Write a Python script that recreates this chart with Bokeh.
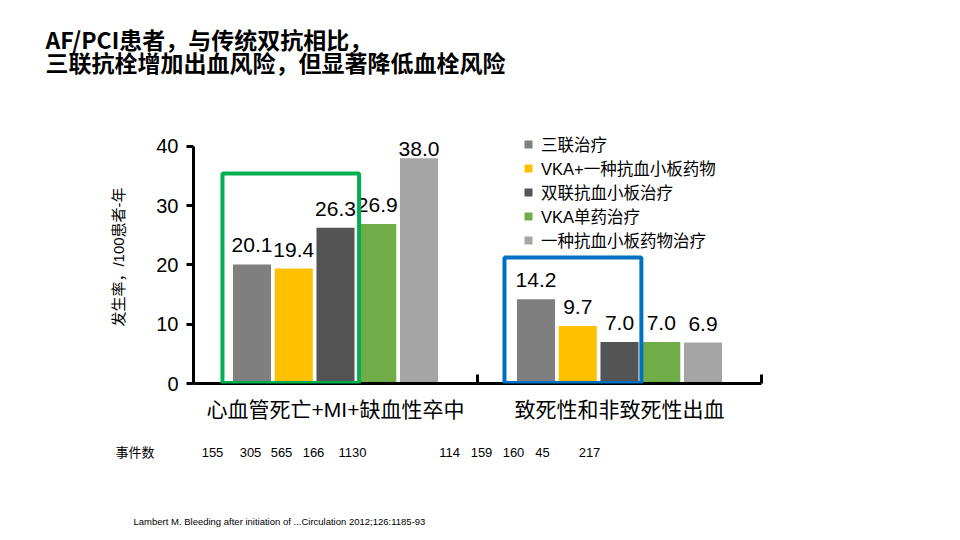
from bokeh.plotting import figure
from bokeh.layouts import column
from bokeh.models import (ColumnDataSource, LabelSet, Label, BoxAnnotation, Legend,
                          LegendItem, FixedTicker)
from bokeh.core.properties import value
from bokeh.embed import file_html
from bokeh.resources import INLINE

# ---------------- data ----------------
categories = ["心血管死亡+MI+缺血性卒中", "致死性和非致死性出血"]
series = ["三联治疗", "VKA+一种抗血小板药物", "双联抗血小板治疗", "VKA单药治疗", "一种抗血小板药物治疗"]
efficacy = [20.1, 19.4, 26.3, 26.9, 38.0]
bleeding = [14.2, 9.7, 7.0, 7.0, 6.9]
events_efficacy = [155, 305, 565, 166, 1130]
events_bleeding = [114, 159, 160, 45, 217]
y_ticks = [0, 10, 20, 30, 40]
title_lines = ["AF/PCI患者，与传统双抗相比，", "三联抗栓增加出血风险，但显著降低血栓风险"]
y_label = "发生率，/100患者-年"
events_label = "事件数"
citation = "Lambert M. Bleeding after initiation of ...Circulation 2012;126:1185-93"

# ---------------- styles / layout ----------------
colors = ["#7F7F7F", "#FFC000", "#545454", "#70AD47", "#A5A5A5"]
SANS = "'Liberation Sans', 'Noto Sans CJK SC'"
NARROW = "'Liberation Sans Narrow', 'Liberation Sans', 'Noto Sans CJK SC'"
bar_step = 0.147
bar_w = 0.134
count_shift_px = [[19, 57, 88, 120, 159], [-28, 4, 36, 65, 112]]

W = 944
TOP_H, MAIN_H, BOT_H = 100, 343, 87
FRAME_L, FRAME_R = 193, 761          # page x of data 0 and 2
PX_PER_UNIT = (FRAME_R - FRAME_L) / 2


def bare(height):
    f = figure(width=W, height=height, output_backend="svg", toolbar_location=None,
               x_axis_type=None, y_axis_type=None, min_border=0, frame_align=False,
               x_range=(-FRAME_L / PX_PER_UNIT, (W - FRAME_L) / PX_PER_UNIT),
               y_range=(0, height))
    f.outline_line_color = None
    f.grid.visible = False
    return f


# ---------------- title strip ----------------
top = bare(TOP_H)
for j, line in enumerate(title_lines):
    top.add_layout(Label(x=45, y=38 + 23 * j, x_units="canvas", y_units="canvas", text=line,
                         text_baseline="middle", text_font="'Noto Sans CJK SC'",
                         text_font_size="23px", text_font_style="bold", text_color="#000000"))

# ---------------- main chart ----------------
p = figure(width=W, height=MAIN_H, x_range=(0, 2), y_range=(0, 47.76),
           output_backend="svg", toolbar_location=None, frame_align=False,
           min_border_left=FRAME_L, min_border_right=W - FRAME_R,
           min_border_top=0, min_border_bottom=MAIN_H - 283)
p.outline_line_color = None
p.grid.visible = False
p.background_fill_color = "white"

renderers = []
for k, name in enumerate(series):
    vals = [efficacy[k], bleeding[k]]
    src = ColumnDataSource(dict(x=[i + 0.5 + (k - 2) * bar_step for i in range(len(categories))],
                                top=vals))
    r = p.vbar(x="x", top="top", width=bar_w, source=src,
               fill_color=colors[k], line_color=None)
    renderers.append(r)

lx, ly, lt, lo = [], [], [], []
for i, arr in enumerate([efficacy, bleeding]):
    for k, v in enumerate(arr):
        lx.append(i + 0.5 + (k - 2) * bar_step)
        ly.append(v)
        lt.append(f"{v:.1f}")
        lo.append(12 if v < 35 else 2)
lsrc = ColumnDataSource(dict(x=lx, y=ly, t=lt, o=lo))
p.add_layout(LabelSet(x="x", y="y", text="t", y_offset="o", source=lsrc,
                      text_align="center", text_baseline="alphabetic",
                      text_font=value(SANS), text_font_size="21px", text_color="#000000"))

p.add_layout(BoxAnnotation(left=0.102, right=0.583, bottom=0.1, top=35.44,
                           fill_alpha=0, line_color="#00B050", line_alpha=1, line_width=4))
p.add_layout(BoxAnnotation(left=1.095, right=1.577, bottom=0.1, top=21.27,
                           fill_alpha=0, line_color="#0070C0", line_alpha=1, line_width=4))

ya = p.yaxis[0]
ya.ticker = FixedTicker(ticks=y_ticks, minor_ticks=[])
ya.bounds = (0, 40)
ya.axis_line_width = 3
ya.axis_line_color = "black"
ya.major_tick_line_width = 3
ya.major_tick_in = 0
ya.major_tick_out = 7
ya.minor_tick_line_color = None
ya.major_label_text_font = SANS
ya.major_label_text_font_size = "20px"
ya.major_label_text_color = "black"
ya.major_label_standoff = 8
ya.axis_label = y_label + "\u3000\u3000"
ya.axis_label_text_font = SANS
ya.axis_label_text_font_size = "15px"
ya.axis_label_text_font_style = "normal"
ya.axis_label_text_color = "black"
ya.axis_label_standoff = 26

xa = p.xaxis[0]
xa.ticker = FixedTicker(ticks=[0.5, 1.5], minor_ticks=[0, 1, 2])
xa.major_label_overrides = {0.5: categories[0], 1.5: categories[1]}
xa.axis_line_width = 3
xa.axis_line_color = "black"
xa.major_tick_in = 0
xa.major_tick_out = 0
xa.major_tick_line_color = None
xa.minor_tick_in = 9
xa.minor_tick_out = 0
xa.minor_tick_line_width = 3
xa.minor_tick_line_color = "black"
xa.major_label_text_font = SANS
xa.major_label_text_font_size = "21px"
xa.major_label_text_color = "black"
xa.major_label_standoff = 14

legend = Legend(items=[LegendItem(label=n, renderers=[r]) for n, r in zip(series, renderers)],
                location=(330, 131), orientation="vertical",
                glyph_width=10, glyph_height=10, label_standoff=8,
                spacing=0, padding=0, margin=0, label_height=20,
                label_text_font=SANS, label_text_font_size="16.5px",
                label_text_line_height=0.9,
                label_text_color="#000000",
                border_line_color=None, background_fill_alpha=0)
p.add_layout(legend)

# ---------------- event counts + citation strip ----------------
bot = bare(BOT_H)
for i, arr in enumerate([events_efficacy, events_bleeding]):
    for k, v in enumerate(arr):
        bot.add_layout(Label(x=i, y=9, x_units="data", y_units="canvas",
                             x_offset=count_shift_px[i][k], text=str(v),
                             text_align="center", text_baseline="middle",
                             text_font=NARROW, text_font_size="13px", text_color="#000000"))
bot.add_layout(Label(x=115, y=9, x_units="canvas", y_units="canvas", text=events_label,
                     text_baseline="middle", text_font=NARROW, text_font_size="13px",
                     text_color="#000000"))
bot.add_layout(Label(x=133, y=78, x_units="canvas", y_units="canvas", text=citation,
                     text_baseline="middle", text_font=NARROW, text_font_size="9.5px",
                     text_color="#000000"))

layout = column(top, p, bot, spacing=0)
open("out.html", "w").write(file_html(layout, INLINE))
